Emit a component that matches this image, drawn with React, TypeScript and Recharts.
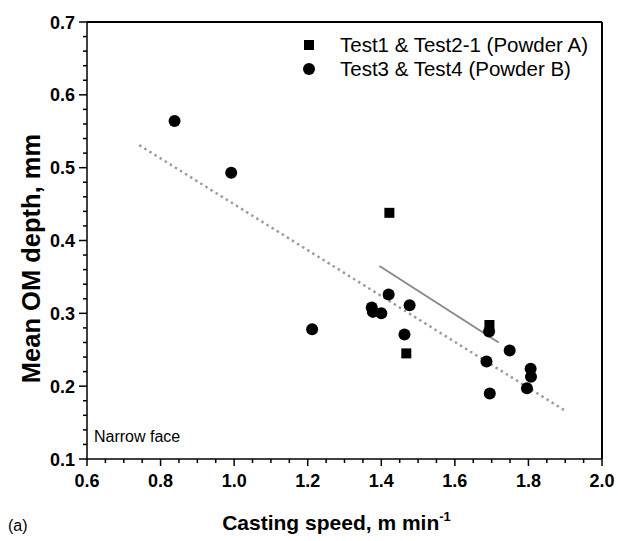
import { ScatterChart, Scatter, XAxis, YAxis, ReferenceLine, Legend, Label } from 'recharts'

// Powder A (squares)
const powderASpeed = [1.422, 1.468, 1.694]
const powderADepth = [0.438, 0.245, 0.284]

// Powder B (circles)
const powderBSpeed = [0.838, 0.992, 1.212, 1.374, 1.377, 1.4, 1.42, 1.477, 1.463, 1.686, 1.693, 1.695, 1.749, 1.806, 1.807, 1.796]
const powderBDepth = [0.564, 0.493, 0.278, 0.308, 0.302, 0.3, 0.326, 0.311, 0.271, 0.234, 0.275, 0.19, 0.249, 0.224, 0.213, 0.197]

// fitted lines (end points)
const fitAllSpeed = [0.742, 1.904]
const fitAllDepth = [0.531, 0.165]
const fitASpeed = [1.395, 1.719]
const fitADepth = [0.365, 0.26]

const xMajorTicks = [0.6, 0.8, 1.0, 1.2, 1.4, 1.6, 1.8, 2.0]
const yMajorTicks = [0.1, 0.2, 0.3, 0.4, 0.5, 0.6, 0.7]

const legendLabels = ['Test1 & Test2-1 (Powder A)', 'Test3 & Test4 (Powder B)']

const FONT = '"Liberation Sans", Arial, sans-serif'

const toPoints = (xs: number[], ys: number[]) => xs.map((x, i) => ({ x, y: ys[i] }))

const powderA = toPoints(powderASpeed, powderADepth)
const powderB = toPoints(powderBSpeed, powderBDepth)
const fitAll = toPoints(fitAllSpeed, fitAllDepth)
const fitA = toPoints(fitASpeed, fitADepth)

const steps = (from: number, to: number, step: number) => {
  const out: number[] = []
  for (let v = from; v <= to + 1e-9; v += step) out.push(Math.round(v * 1000) / 1000)
  return out
}
const xTicks = steps(0.6, 2.0, 0.05)
const yTicks = steps(0.1, 0.7, 0.02)

const isMajor = (v: number, majors: number[]) => majors.some((m) => Math.abs(m - v) < 1e-6)

const XTick = (props: any) => {
  const { x, y, payload } = props
  const major = isMajor(payload.value, xMajorTicks)
  return (
    <g>
      <line x1={x} x2={x} y1={y} y2={y + (major ? 7 : 4)} stroke="#000" strokeWidth={1.5} />
      {major && (
        <text x={x} y={y + 28} textAnchor="middle" fontFamily={FONT} fontWeight="bold" fontSize={18} fill="#000">
          {payload.value.toFixed(1)}
        </text>
      )}
    </g>
  )
}

const YTick = (props: any) => {
  const { x, y, payload } = props
  const major = isMajor(payload.value, yMajorTicks)
  return (
    <g>
      <line x1={x} x2={x - (major ? 8 : 4)} y1={y} y2={y} stroke="#000" strokeWidth={1.5} />
      {major && (
        <text x={x - 12} y={y + 6.5} textAnchor="end" fontFamily={FONT} fontWeight="bold" fontSize={18} fill="#000">
          {payload.value.toFixed(1)}
        </text>
      )}
    </g>
  )
}

const SquareShape = (props: any) => <rect x={props.cx - 5} y={props.cy - 5} width={10} height={10} fill="#000" />
const CircleShape = (props: any) => <circle cx={props.cx} cy={props.cy} r={6} fill="#000" />

const LegendBox = () => (
  <div style={{ fontFamily: FONT, fontSize: 20.5, color: '#000', lineHeight: '24px' }}>
    {legendLabels.map((t, i) => (
      <div key={t} style={{ display: 'flex', alignItems: 'center' }}>
        <svg width={40} height={24}>
          {i === 0 ? <rect x={4} y={7} width={10} height={10} fill="#000" /> : <circle cx={9} cy={12} r={6} fill="#000" />}
        </svg>
        <span>{t}</span>
      </div>
    ))}
  </div>
)

export default function App() {
  return (
    <div style={{ position: 'absolute', left: 0, top: 0, background: '#fff' }}>
      <ScatterChart width={618} height={541} margin={{ top: 22, right: 16, bottom: 42, left: 27 }}>
        <XAxis
          type="number"
          dataKey="x"
          domain={[0.6, 2.0]}
          ticks={xTicks}
          interval={0}
          allowDataOverflow
          height={40}
          tickSize={0}
          tickMargin={0}
          tickLine={false}
          tick={<XTick />}
          axisLine={{ stroke: '#000', strokeWidth: 1.5 }}
        >
          <Label
            content={({ viewBox }: any) => (
              <text x={viewBox.x + viewBox.width / 2 - 8} y={viewBox.y + 71} textAnchor="middle" fontFamily={FONT} fontWeight="bold" fontSize={21} fill="#000">
                <tspan>Casting speed, m min</tspan>
                <tspan fontSize={13} dy={-9}>-1</tspan>
              </text>
            )}
          />
          <Label
            content={({ viewBox }: any) => (
              <text x={viewBox.x + 7} y={viewBox.y - 17} fontFamily={FONT} fontSize={16} fill="#000">
                Narrow face
              </text>
            )}
          />
          <Label
            content={({ viewBox }: any) => (
              <text x={viewBox.x - 79} y={viewBox.y + 72} fontFamily={FONT} fontSize={16} fill="#000">
                (a)
              </text>
            )}
          />
        </XAxis>
        <YAxis
          type="number"
          dataKey="y"
          domain={[0.1, 0.7]}
          ticks={yTicks}
          interval={0}
          allowDataOverflow
          width={60}
          tickSize={0}
          tickMargin={0}
          tickLine={false}
          tick={<YTick />}
          axisLine={{ stroke: '#000', strokeWidth: 1.5 }}
        >
          <Label
            content={({ viewBox }: any) => {
              const cx = 40
              const cy = viewBox.y + viewBox.height / 2 + 18
              return (
                <text x={cx} y={cy} transform={`rotate(-90 ${cx} ${cy})`} textAnchor="middle" fontFamily={FONT} fontWeight="bold" fontSize={25.5} fill="#000">
                  Mean OM depth, mm
                </text>
              )
            }}
          />
        </YAxis>
        <ReferenceLine y={0.7} stroke="#000" strokeWidth={2} />
        <ReferenceLine x={2.0} stroke="#000" strokeWidth={2} />
        <ReferenceLine segment={fitAll} stroke="#9c9c9c" strokeWidth={2.5} strokeDasharray="2.5 3.5" />
        <ReferenceLine segment={fitA} stroke="#8a8a8a" strokeWidth={2} />
        <Scatter name={legendLabels[0]} data={powderA} shape={SquareShape} isAnimationActive={false} />
        <Scatter name={legendLabels[1]} data={powderB} shape={CircleShape} isAnimationActive={false} />
        <Legend
          layout="vertical"
          align="center"
          verticalAlign="middle"
          content={<LegendBox />}
          wrapperStyle={{ top: 33, left: 300, width: 318 }}
        />
      </ScatterChart>
    </div>
  )
}
